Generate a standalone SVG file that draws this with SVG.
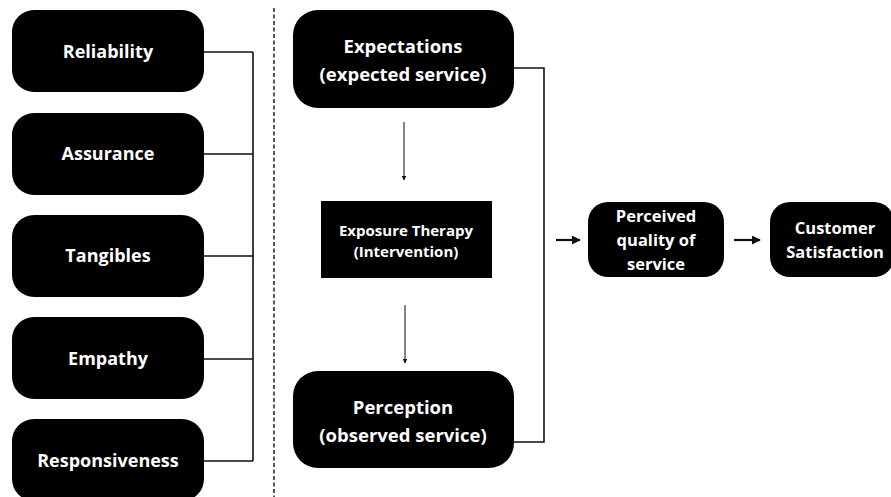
<svg xmlns="http://www.w3.org/2000/svg" width="891" height="497" viewBox="0 0 891 497">
<defs>
<style>
.box{fill:#000}
.t{fill:#fff;font-family:"Open Sans",Lato,sans-serif;font-weight:700;text-anchor:middle}
.l{font-size:18px}
.m{font-size:18.5px}
.s{font-size:16.5px}
.xs{font-size:15px}
.ln{stroke:#111;stroke-width:1.6;fill:none}
.thin{stroke:#222;stroke-width:1.1;fill:none}
</style>
<marker id="ah" viewBox="0 0 10 10" refX="9" refY="5" markerWidth="5" markerHeight="5" orient="auto" markerUnits="userSpaceOnUse">
<path d="M0,0 L10,5 L0,10 z" fill="#111"/>
</marker>
<marker id="ahb" viewBox="0 0 10 10" refX="9" refY="5" markerWidth="9" markerHeight="9" orient="auto" markerUnits="userSpaceOnUse">
<path d="M0,0 L10,5 L0,10 z" fill="#111"/>
</marker>
</defs>
<rect width="891" height="497" fill="#fff"/>
<g id="connectors">
<path class="ln" d="M204,52 H253 M204,154 H253 M204,256 H253 M204,359 H253 M204,461 H253 M253,52 V461"/>
<line x1="274" y1="8" x2="274" y2="497" stroke="#222" stroke-width="1.5" stroke-dasharray="4,2.5"/>
<path class="ln" d="M514,68 H544 V442 H514"/>
<line class="thin" x1="404" y1="122" x2="404" y2="180" marker-end="url(#ah)"/>
<line class="thin" x1="405" y1="305" x2="405" y2="363" marker-end="url(#ah)"/>
<line x1="556" y1="240" x2="580" y2="240" stroke="#111" stroke-width="2.2" marker-end="url(#ahb)"/>
<line x1="734" y1="240" x2="760" y2="240" stroke="#111" stroke-width="2.2" marker-end="url(#ahb)"/>
</g>
<g id="reliability"><rect class="box" x="12" y="10" width="192" height="82" rx="22"/><text class="t l" x="108" y="58">Reliability</text></g>
<g id="assurance"><rect class="box" x="12" y="113" width="192" height="82" rx="22"/><text class="t l" x="108" y="160">Assurance</text></g>
<g id="tangibles"><rect class="box" x="12" y="215" width="192" height="82" rx="22"/><text class="t l" x="108" y="262">Tangibles</text></g>
<g id="empathy"><rect class="box" x="12" y="317" width="192" height="82" rx="22"/><text class="t l" x="108" y="365">Empathy</text></g>
<g id="responsiveness"><rect class="box" x="12" y="419" width="192" height="82" rx="22"/><text class="t l" x="108" y="467">Responsiveness</text></g>
<g id="expectations"><rect class="box" x="293" y="10" width="221" height="98" rx="25"/><text class="t m" x="403" y="53">Expectations</text><text class="t m" x="403" y="81">(expected service)</text></g>
<g id="exposure"><rect class="box" x="321" y="201" width="171" height="77"/><text class="t xs" x="406" y="236">Exposure Therapy</text><text class="t xs" x="406" y="257">(Intervention)</text></g>
<g id="perception"><rect class="box" x="293" y="371" width="221" height="97" rx="25"/><text class="t m" x="403" y="414">Perception</text><text class="t m" x="403" y="442">(observed service)</text></g>
<g id="perceived"><rect class="box" x="588" y="202" width="136" height="75" rx="20"/><text class="t s" x="656" y="222">Perceived</text><text class="t s" x="656" y="246">quality of</text><text class="t s" x="656" y="270">service</text></g>
<g id="satisfaction"><rect class="box" x="770" y="202" width="124" height="75" rx="20"/><text class="t s" x="835" y="234">Customer</text><text class="t s" x="835" y="258">Satisfaction</text></g>
</svg>
